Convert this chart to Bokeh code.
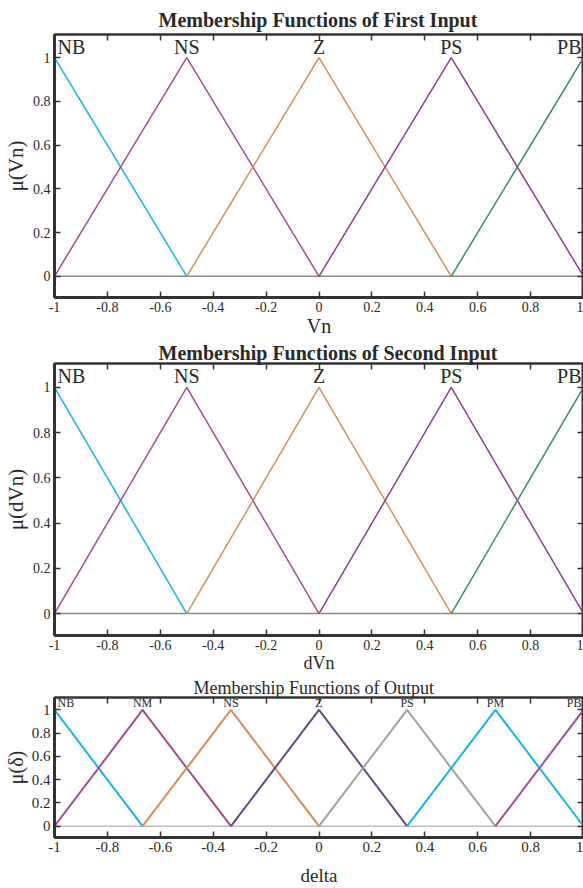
from bokeh.plotting import figure
from bokeh.layouts import column
from bokeh.models import ColumnDataSource, FixedTicker, LinearAxis, Range1d
from bokeh.core.properties import value
from bokeh.embed import file_html
from bokeh.resources import INLINE

# ---------------- data ----------------
x_ticks = [-1, -0.8, -0.6, -0.4, -0.2, 0, 0.2, 0.4, 0.6, 0.8, 1]
x_tick_labels = ["-1", "-0.8", "-0.6", "-0.4", "-0.2", "0", "0.2", "0.4", "0.6", "0.8", "1"]
y_ticks = [0, 0.2, 0.4, 0.6, 0.8, 1]
y_tick_labels = ["0", "0.2", "0.4", "0.6", "0.8", "1"]

# input membership functions (same for Vn and dVn): left foot, peak, right foot
in_names = ["NB", "NS", "Z", "PS", "PB"]
in_left = [-1, -1, -0.5, 0, 0.5]
in_peak = [-1, -0.5, 0, 0.5, 1]
in_right = [-0.5, 0, 0.5, 1, 1]
in_colors = ["#19b2ea", "#a34d93", "#d68f5a", "#8c418f", "#3a8a74"]

# output membership functions (delta)
out_names = ["NB", "NM", "NS", "Z", "PS", "PM", "PB"]
out_left = [-1, -1, -0.667, -0.333, 0, 0.333, 0.667]
out_peak = [-1, -0.667, -0.333, 0, 0.333, 0.667, 1]
out_right = [-0.667, -0.333, 0, 0.333, 0.667, 1, 1]
out_colors = ["#19b2ea", "#a34d93", "#d68f5a", "#6b4a82", "#a3a3a3", "#19b2ea", "#a34d93"]

FONT = "Liberation Serif"
TXT = "#2a2a2a"
FRAME = "#333333"


def tri_source(left, peak, right, colors):
    xs, ys = [], []
    for l, pk, r in zip(left, peak, right):
        px, py = [], []
        if l < pk:
            px.append(l); py.append(0)
        px.append(pk); py.append(1)
        if r > pk:
            px.append(r); py.append(0)
        xs.append(px); ys.append(py)
    return ColumnDataSource(dict(xs=xs, ys=ys, color=colors))


def label_source(names, peak):
    n = len(names)
    align = ["left" if i == 0 else ("right" if i == n - 1 else "center") for i in range(n)]
    xoff = [3 if i == 0 else (-2 if i == n - 1 else 0) for i in range(n)]
    return ColumnDataSource(dict(x=peak, y=[1] * n, text=names, align=align, xoff=xoff))


def style_axis(ax, tick_size, line_w):
    ax.axis_line_color = FRAME
    ax.axis_line_width = line_w
    ax.major_tick_in = 6
    ax.major_tick_out = 0
    ax.major_tick_line_color = FRAME
    ax.major_tick_line_width = 1.5
    ax.minor_tick_line_color = None
    ax.major_label_text_font = FONT
    ax.major_label_text_font_size = tick_size
    ax.major_label_text_color = TXT
    ax.major_label_standoff = 4
    ax.axis_label_text_font = FONT
    ax.axis_label_text_font_style = "normal"
    ax.axis_label_text_color = TXT


def make_panel(height, left_border, top_border, bottom_border, title, title_bold,
               title_size, title_offset, title_standoff, xlabel, ylabel, names, left, peak,
               right, colors, label_size, tick_size, xlabel_size, xlabel_standoff,
               ylabel_size, line_w, base_color):
    p = figure(width=583, height=height, x_range=Range1d(-1, 1),
               y_range=Range1d(-0.097, 1.106), output_backend="svg",
               toolbar_location=None, min_border_left=left_border, min_border_right=0,
               min_border_top=top_border, min_border_bottom=bottom_border,
               title=title, x_axis_label=xlabel, y_axis_label=ylabel)
    p.title.text_font = FONT
    p.title.text_font_style = "bold" if title_bold else "normal"
    p.title.text_font_size = title_size
    p.title.text_color = TXT
    p.title.align = "left"
    p.title.offset = title_offset
    p.title.standoff = title_standoff

    p.xgrid.visible = False
    p.ygrid.visible = False
    p.background_fill_color = "white"
    p.border_fill_color = "white"
    p.outline_line_color = FRAME
    p.outline_line_width = 2

    xa = p.xaxis[0]
    xa.ticker = FixedTicker(ticks=x_ticks)
    xa.major_label_overrides = {t: s for t, s in zip(x_ticks, x_tick_labels)}
    ya = p.yaxis[0]
    ya.ticker = FixedTicker(ticks=y_ticks)
    ya.major_label_overrides = {t: s for t, s in zip(y_ticks, y_tick_labels)}
    style_axis(xa, tick_size, 3)
    style_axis(ya, tick_size, 3)
    xa.axis_label_text_font_size = xlabel_size
    xa.axis_label_standoff = xlabel_standoff
    ya.axis_label_text_font_size = ylabel_size
    ya.axis_label_standoff = 2

    # box ticks on top and right (no labels)
    top = LinearAxis(ticker=FixedTicker(ticks=x_ticks))
    style_axis(top, "0px", 2)
    top.major_label_standoff = 0
    top.major_label_overrides = {t: "" for t in x_ticks}
    p.add_layout(top, "above")
    right_ax = LinearAxis(ticker=FixedTicker(ticks=y_ticks))
    style_axis(right_ax, "0px", 2)
    right_ax.major_label_standoff = 0
    right_ax.major_label_overrides = {t: "" for t in y_ticks}
    p.add_layout(right_ax, "right")

    # baseline at zero
    p.line(x=[x_ticks[0], x_ticks[-1]], y=[y_ticks[0], y_ticks[0]],
           line_color=base_color, line_width=1.5)
    src = tri_source(left, peak, right, colors)
    p.multi_line(xs="xs", ys="ys", line_color="color", line_width=line_w, source=src)

    lab = label_source(names, peak)
    p.text(x="x", y="y", text="text", source=lab, text_align="align",
           text_baseline="bottom", x_offset="xoff", y_offset=0,
           text_font=value(FONT), text_font_size=label_size, text_color=TXT)
    return p


p1 = make_panel(339, 54, 34, 40, "Membership Functions of First Input", True, "20px", 104, 7,
                "Vn", "\u03bc(Vn)", in_names, in_left, in_peak, in_right, in_colors,
                "20px", "14px", "20px", 0, "21px", 1.5, "#8a8a8a")
p2 = make_panel(336, 54, 24, 40, "Membership Functions of Second Input", True, "20px", 104, 0,
                "dVn", "\u03bc(dVn)", in_names, in_left, in_peak, in_right, in_colors,
                "20px", "14px", "18px", 0, "21px", 1.5, "#8a8a8a")
p3 = make_panel(213, 47, 22, 48, "Membership Functions of Output", False, "18px", 139, 0,
                "delta", "\u03bc(\u03b4)", out_names, out_left, out_peak, out_right, out_colors,
                "12px", "15px", "19px", 10, "20px", 2, "#bdbdbd")

layout = column(p1, p2, p3, spacing=0)
open("out.html", "w").write(file_html(layout, INLINE))
